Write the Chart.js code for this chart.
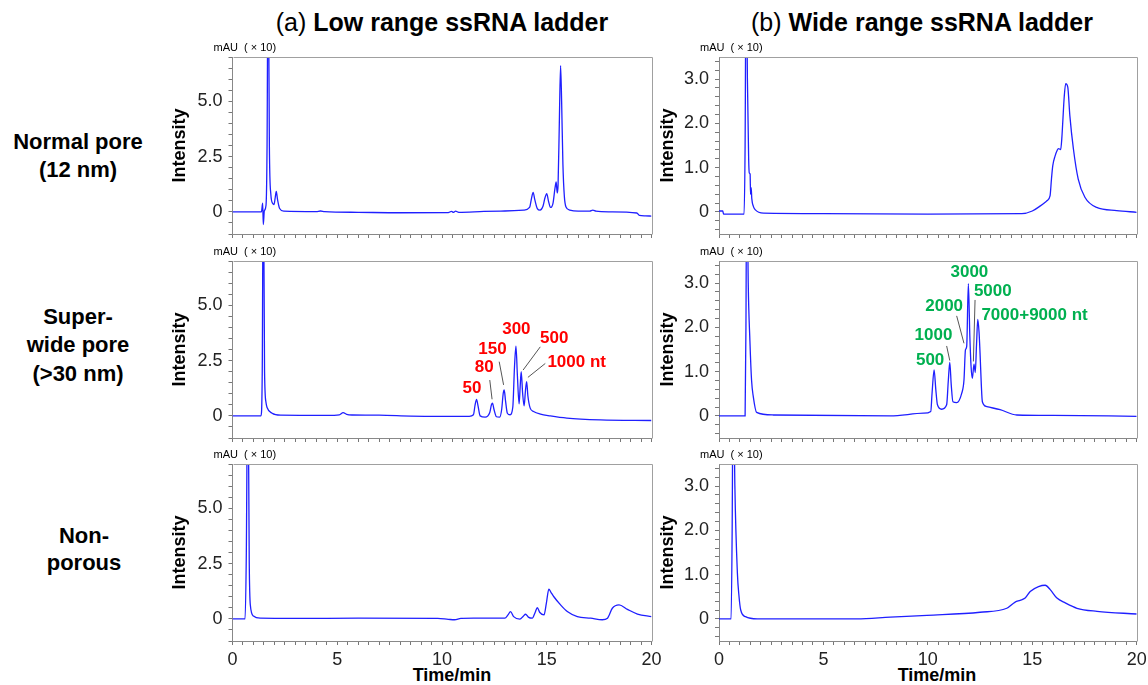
<!DOCTYPE html>
<html>
<head>
<meta charset="utf-8">
<script src="https://cdn.jsdelivr.net/npm/chart.js@4.4.1/dist/chart.umd.min.js"></script>
<style>
    body { margin: 0; width: 1148px; height: 685px; background: #fff; position: relative; overflow: hidden;
           font-family: Arial, "Liberation Sans", sans-serif; color: #000; }
    .txt { position: absolute; white-space: nowrap; transform: translate(-50%, -50%); }
    .col-title { font-size: 25px; }
    .row-label { font-size: 22px; font-weight: bold; text-align: center; line-height: 28px; }
    .axis-label { font-size: 18px; font-weight: bold; }
    canvas { position: absolute; }
</style>
</head>
<body>
<div class="txt col-title" style="left:442px; top:22px;">(a) <b>Low range ssRNA ladder</b></div>
<div class="txt col-title" style="left:922px; top:22px;">(b) <b>Wide range ssRNA ladder</b></div>
<div class="txt row-label" style="left:78px; top:156px;">Normal pore<br>(12 nm)</div>
<div class="txt row-label" style="left:78px; top:345px; line-height:28.3px;">Super-<br>wide pore<br>(&gt;30 nm)</div>
<div class="txt row-label" style="left:84px; top:550px; line-height:26.6px;">Non-<br>porous</div>
<div class="txt axis-label" style="left:452px; top:675px;">Time/min</div>
<div class="txt axis-label" style="left:937px; top:675px;">Time/min</div>

<script>
// traces: [time (min), intensity (mAU x10)]
const lowNormal = [
    [0, 0.0], [1.38, 0.0], [1.44, 0.4], [1.47, -0.57], [1.52, 0.05], [1.6, 0.3], [1.65, 3.0], [1.7, 12],
    [1.76, 3.0], [1.83, 0.8], [1.92, 0.38], [1.98, 0.33], [2.04, 0.65], [2.09, 0.93], [2.15, 0.55],
    [2.25, 0.15], [2.45, 0.03], [4.0, 0.01], [4.2, 0.04], [4.4, 0.01], [6.0, -0.02], [8.0, -0.04],
    [10.3, -0.03], [10.45, 0.02], [10.55, -0.02], [10.65, 0.03], [10.8, -0.02], [12.0, 0.02], [13.0, 0.04],
    [13.9, 0.08], [14.18, 0.2], [14.27, 0.6], [14.35, 0.88], [14.43, 0.55], [14.55, 0.15], [14.68, 0.08],
    [14.82, 0.25], [14.92, 0.65], [15.0, 0.82], [15.08, 0.5], [15.18, 0.2], [15.3, 0.4], [15.39, 1.05],
    [15.45, 1.35], [15.5, 0.85], [15.54, 1.2], [15.6, 4.0], [15.66, 6.61], [15.71, 5.0], [15.77, 2.2],
    [15.84, 0.7], [15.92, 0.22], [16.1, 0.08], [16.5, 0.03], [17.05, 0.03], [17.2, 0.08], [17.35, 0.03],
    [18.0, 0.0], [19.3, -0.05], [19.42, -0.16], [19.7, -0.18], [20, -0.19]
];
const lowSuperwide = [
    [0, 0.0], [1.36, 0.0], [1.42, 2.0], [1.47, 12], [1.53, 2.0], [1.6, 0.6], [1.65, 0.38], [1.89, 0.12],
    [2.3, 0.03], [4.5, 0.02], [5.1, 0.05], [5.28, 0.15], [5.45, 0.07], [5.7, 0.04], [7.0, 0.03], [8.5, -0.01],
    [10.0, -0.02], [11.3, -0.02], [11.5, 0.05], [11.58, 0.5], [11.65, 0.75], [11.72, 0.45], [11.82, 0.0],
    [12.06, -0.06], [12.28, 0.15], [12.36, 0.5], [12.41, 0.57], [12.48, 0.3], [12.6, -0.04], [12.75, -0.06],
    [12.85, 0.3], [12.92, 1.0], [12.97, 1.17], [13.03, 0.7], [13.12, 0.12], [13.25, 0.05], [13.38, 0.4],
    [13.46, 2.2], [13.53, 3.15], [13.6, 1.8], [13.68, 0.54], [13.73, 1.3], [13.78, 2.0], [13.85, 1.0],
    [13.92, 0.45], [13.98, 1.1], [14.04, 1.55], [14.1, 0.9], [14.21, 0.35], [14.37, 0.2], [14.7, 0.08],
    [15.17, 0.0], [15.96, -0.1], [17.56, -0.18], [20, -0.21]
];
const lowNonporous = [
    [0, 0.0], [0.6, 0.0], [0.66, 3.0], [0.73, 12], [0.8, 2.5], [0.85, 0.63], [1.0, 0.13], [1.32, 0.03],
    [3.0, 0.02], [6.0, 0.03], [9.8, 0.02], [10.3, -0.02], [10.6, -0.04], [10.9, 0.02], [11.5, 0.03],
    [13.0, 0.03], [13.15, 0.18], [13.27, 0.33], [13.42, 0.1], [13.72, -0.01], [13.88, 0.12], [13.99, 0.21],
    [14.12, 0.08], [14.31, 0.03], [14.45, 0.3], [14.55, 0.51], [14.66, 0.3], [14.87, 0.18], [14.98, 0.7],
    [15.1, 1.34], [15.2, 1.2], [15.34, 1.0], [15.66, 0.63], [15.98, 0.33], [16.46, 0.1], [17.1, 0.03],
    [17.65, -0.04], [17.9, 0.03], [18.13, 0.48], [18.45, 0.63], [18.85, 0.43], [19.33, 0.22], [20, 0.1]
];
const wideNormal = [
    [0, 0.02], [0.18, 0.02], [0.22, -0.05], [1.2, -0.05], [1.25, 1.5], [1.3, 6], [1.36, 3.0], [1.42, 1.2],
    [1.45, 0.88], [1.49, 0.85], [1.51, 0.4], [1.54, 0.55], [1.57, 0.3], [1.65, 0.12], [1.73, 0.05],
    [2.13, -0.03], [5, -0.04], [10, -0.05], [14.5, -0.04], [15.0, 0.02], [15.37, 0.13], [15.7, 0.25],
    [15.85, 0.36], [15.92, 0.75], [15.98, 1.04], [16.09, 1.26], [16.2, 1.4], [16.25, 1.43], [16.36, 1.41],
    [16.42, 1.7], [16.46, 2.03], [16.53, 2.6], [16.6, 2.9], [16.7, 2.82], [16.8, 2.17], [16.97, 1.42],
    [17.2, 0.74], [17.52, 0.33], [18.08, 0.1], [19.04, 0.03], [20, -0.01]
];
const wideSuperwide = [
    [0, 0.0], [1.25, 0.0], [1.29, 2.0], [1.33, 6], [1.4, 3.0], [1.48, 1.7], [1.56, 0.8], [1.64, 0.44],
    [1.8, 0.08], [2.6, 0.02], [8.2, 0.0], [9.8, 0.06], [10.14, 0.1], [10.2, 0.5], [10.3, 1.04], [10.38, 0.6],
    [10.46, 0.25], [10.66, 0.15], [10.9, 0.25], [10.98, 0.8], [11.05, 1.21], [11.12, 0.7], [11.2, 0.32],
    [11.38, 0.3], [11.62, 0.51], [11.73, 0.81], [11.8, 1.49], [11.86, 1.57], [11.94, 2.99], [12.01, 1.8],
    [12.07, 1.11], [12.13, 0.85], [12.21, 1.17], [12.27, 0.98], [12.33, 1.6], [12.39, 2.18], [12.45, 1.9],
    [12.5, 1.41], [12.56, 0.7], [12.61, 0.32], [12.82, 0.21], [13.46, 0.14], [14.26, 0.02], [16, 0.01],
    [20, -0.01]
];
const wideNonporous = [
    [0, 0.0], [0.58, 0.0], [0.63, 2.0], [0.68, 6], [0.76, 3.0], [0.88, 1.04], [0.96, 0.5], [1.04, 0.2],
    [1.27, 0.05], [1.83, 0.0], [6.6, 0.0], [8.2, 0.04], [9.96, 0.08], [12.5, 0.15], [13.78, 0.24],
    [14.18, 0.38], [14.42, 0.42], [14.66, 0.47], [14.9, 0.62], [15.3, 0.73], [15.62, 0.76], [15.86, 0.66],
    [16.18, 0.47], [16.58, 0.36], [17.14, 0.24], [18.1, 0.17], [20, 0.11]
];

// peak size labels: [text, time, intensity] and leader lines [t1, v1, t2, v2]
const lowLabels = [["50", 11.43, 1.25], ["80", 12.02, 2.18], ["150", 12.41, 3.02], ["300", 13.55, 3.9],
    ["500", 15.36, 3.5], ["1000 nt", 16.43, 2.4]];
const lowLeaders = [[12.28, 1.62, 12.39, 0.75], [12.73, 2.45, 12.94, 1.4], [14.69, 3.12, 13.87, 2.07],
    [14.93, 2.37, 14.1, 1.74]];
const wideLabels = [["500", 10.11, 1.25], ["1000", 10.27, 1.81], ["2000", 10.78, 2.47], ["3000", 11.99, 3.24],
    ["5000", 13.11, 2.81], ["7000+9000 nt", 15.11, 2.28]];
const wideLeaders = [[10.9, 1.58, 11.05, 1.25], [11.38, 2.26, 11.73, 1.64], [12.26, 2.62, 12.18, 1.23]];

const timeTicks = [0, 5, 10, 15, 20];
const lowTicks = [0, 2.5, 5];
const wideTicks = [0, 1, 2, 3];

const FONT = "Arial, 'Liberation Sans', sans-serif";
const colLeft = [160, 650];
const colWidth = [505, 498];
const areaLeft = [232.5, 719];
const areaRight = [651.5, 1136.7];
const titlePad = [9, 7.5];
const rowTop = [56.5, 260.5, 463.5];
const areaH = 177;
const padTop = 20;

const onList = (list, v) => list.some(t => Math.abs(t - v) < 1e-6);

// minor tick marks every `step`, aligned on zero
const stepTicks = (min, max, step) => {
    const out = [];
    for (let k = Math.ceil(min / step - 1e-9); k * step <= max + 1e-9; k++) {
        out.push({ value: Math.round(k * step * 1000) / 1000 });
    }
    return out;
};

const panels = [
    { data: lowNormal, col: 0, row: 0 },
    { data: lowSuperwide, col: 0, row: 1, labels: lowLabels, leaders: lowLeaders, color: "#ff0000" },
    { data: lowNonporous, col: 0, row: 2 },
    { data: wideNormal, col: 1, row: 0 },
    { data: wideSuperwide, col: 1, row: 1, labels: wideLabels, leaders: wideLeaders, color: "#00b050" },
    { data: wideNonporous, col: 1, row: 2 }
];

const framePlugin = {
    id: "frame",
    afterDraw(chart) {
        const { ctx, chartArea: a } = chart;
        ctx.save();
        ctx.strokeStyle = "#a0a0a0";
        ctx.lineWidth = 1;
        ctx.beginPath();
        ctx.moveTo(Math.round(a.left) + 0.5, Math.round(a.top) + 0.5);
        ctx.lineTo(Math.round(a.right) + 0.5, Math.round(a.top) + 0.5);
        ctx.lineTo(Math.round(a.right) + 0.5, Math.round(a.bottom) + 0.5);
        ctx.stroke();
        ctx.fillStyle = "#000";
        ctx.font = "11px " + FONT;
        ctx.textBaseline = "middle";
        ctx.fillText("mAU  ( \u00d7 10)", a.left - 19, a.top - 9);
        ctx.restore();
    }
};

panels.forEach(p => {
    const bottomRow = p.row === 2;
    const xH = bottomRow ? 32 : 6;
    const canvas = document.createElement("canvas");
    canvas.width = colWidth[p.col];
    canvas.height = padTop + areaH + xH;
    canvas.style.left = colLeft[p.col] + "px";
    canvas.style.top = (rowTop[p.row] - padTop) + "px";
    document.body.appendChild(canvas);

    const yTicks = p.col === 0 ? lowTicks : wideTicks;
    const yStep = p.col === 0 ? 0.5 : 0.2;
    const plugins = [framePlugin];
    if (p.labels) {
        plugins.push({
            id: "peakLabels",
            afterDatasetsDraw(chart) {
                const { ctx, scales: { x, y } } = chart;
                ctx.save();
                ctx.strokeStyle = "#555";
                ctx.lineWidth = 1;
                p.leaders.forEach(l => {
                    ctx.beginPath();
                    ctx.moveTo(x.getPixelForValue(l[0]), y.getPixelForValue(l[1]));
                    ctx.lineTo(x.getPixelForValue(l[2]), y.getPixelForValue(l[3]));
                    ctx.stroke();
                });
                ctx.fillStyle = p.color;
                ctx.font = "bold 17px " + FONT;
                ctx.textAlign = "center";
                ctx.textBaseline = "middle";
                p.labels.forEach(l => ctx.fillText(l[0], x.getPixelForValue(l[1]), y.getPixelForValue(l[2])));
                ctx.restore();
            }
        });
    }

    new Chart(canvas, {
        type: "line",
        data: {
            datasets: [{
                data: p.data,
                borderColor: "#1f1fff",
                borderWidth: 1.3,
                pointRadius: 0,
                cubicInterpolationMode: "monotone",
                fill: false
            }]
        },
        options: {
            responsive: false,
            animation: false,
            events: [],
            layout: { padding: { top: padTop, left: 0, bottom: 0, right: colLeft[p.col] + colWidth[p.col] - areaRight[p.col] } },
            plugins: { legend: { display: false }, tooltip: { enabled: false } },
            scales: {
                x: {
                    type: "linear",
                    min: 0,
                    max: 20,
                    afterBuildTicks: s => { s.ticks = stepTicks(s.min, s.max, 0.5); },
                    afterFit: s => {
                        s.height = xH;
                        s.paddingLeft = 0;
                        s.paddingRight = 0;
                    },
                    border: { display: true, color: "#888" },
                    grid: { drawOnChartArea: false, drawTicks: true, tickLength: 4, color: "#777" },
                    ticks: {
                        autoSkip: false,
                        maxRotation: 0,
                        padding: 4,
                        color: "#222",
                        font: { family: FONT, size: 18 },
                        callback: v => (bottomRow && onList(timeTicks, v)) ? String(v) : ""
                    }
                },
                y: {
                    min: p.col === 0 ? -1 : -0.5,
                    max: p.col === 0 ? 7 : 3.5,
                    afterBuildTicks: s => { s.ticks = stepTicks(s.min, s.max, yStep); },
                    afterFit: s => {
                        s.width = areaLeft[p.col] - colLeft[p.col];
                        s.paddingTop = 0;
                        s.paddingBottom = 0;
                    },
                    border: { display: true, color: "#888" },
                    grid: { drawOnChartArea: false, drawTicks: true, tickLength: 4, color: "#777" },
                    title: {
                        display: true,
                        text: "Intensity",
                        color: "#000",
                        padding: { top: titlePad[p.col], bottom: 0 },
                        font: { family: FONT, size: 18, weight: "bold" }
                    },
                    ticks: {
                        autoSkip: false,
                        padding: 6,
                        color: "#222",
                        font: { family: FONT, size: 18 },
                        callback: v => onList(yTicks, v) ? (v === 0 ? "0" : v.toFixed(1)) : ""
                    }
                }
            }
        },
        plugins: plugins
    });
});
</script>
</body>
</html>
